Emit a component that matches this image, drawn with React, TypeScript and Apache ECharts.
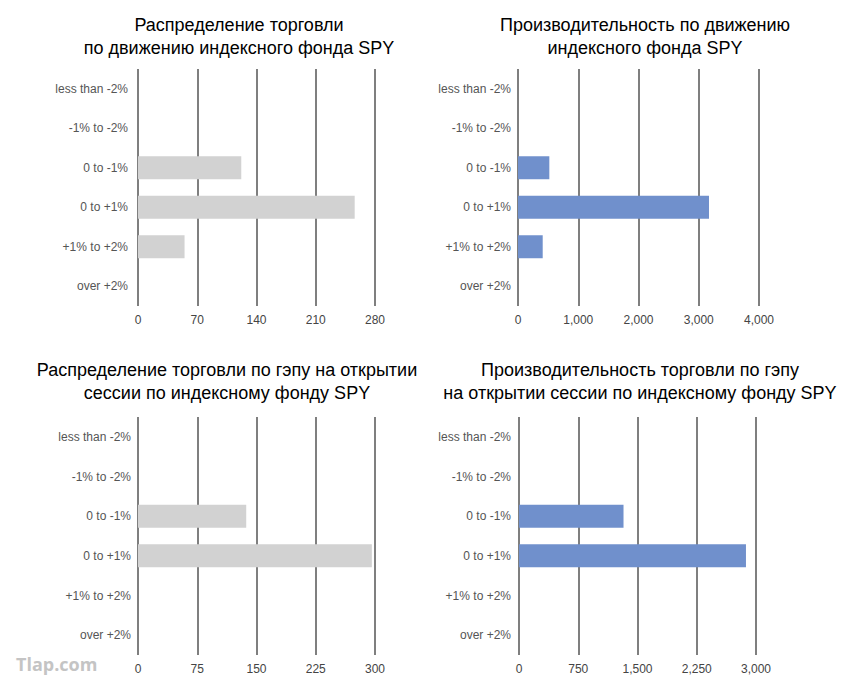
import React, { useEffect, useRef } from "react";
import * as echarts from "echarts";

const categories = ["less than -2%", "-1% to -2%", "0 to -1%", "0 to +1%", "+1% to +2%", "over +2%"];

const titles = [
  "Распределение торговли\nпо движению индексного фонда SPY",
  "Производительность по движению\nиндексного фонда SPY",
  "Распределение торговли по гэпу на открытии\nсессии по индексному фонду SPY",
  "Производительность торговли по гэпу\nна открытии сессии по индексному фонду SPY",
];

const tradesByMove = [0, 0, 122, 256, 55, 0];
const profitByMove = [0, 0, 520, 3170, 410, 0];
const tradesByGap = [0, 0, 137, 296, 0, 0];
const profitByGap = [0, 0, 1323, 2873, 0, 0];

const axisMax = [280, 4000, 300, 3000];
const axisInterval = [70, 1000, 75, 750];

const GRAY = "#d2d2d2";
const BLUE = "#7090cc";

export default function App() {
  const ref = useRef<HTMLDivElement>(null);
  useEffect(() => {
    document.body.style.margin = "0";
    const chart = echarts.init(ref.current!, null, { renderer: "svg" });
    const grids = [
      { left: 138, top: 69, width: 237, height: 237 },
      { left: 518, top: 69, width: 241, height: 237 },
      { left: 138, top: 417, width: 237, height: 238 },
      { left: 519, top: 417, width: 237, height: 238 },
    ];
    const titleX = [239, 645, 227, 640];
    const titleY = [13, 13, 358, 358];
    const labelMargin = [10, 7, 7, 8];
    const seriesData = [tradesByMove, profitByMove, tradesByGap, profitByGap];
    const colors = [GRAY, BLUE, GRAY, BLUE];
    const font = "'Liberation Sans', Arial, Helvetica, sans-serif";

    chart.setOption({
      animation: false,
      backgroundColor: "#ffffff",
      textStyle: { fontFamily: font },
      title: titles.map((t, i) => ({
        text: t,
        left: titleX[i],
        top: titleY[i],
        textAlign: "center",
        padding: 0,
        textStyle: {
          fontFamily: font,
          fontSize: 18,
          fontWeight: "normal",
          color: "#000000",
          lineHeight: 23,
        },
      })),
      grid: grids,
      xAxis: grids.map((_, i) => ({
        type: "value",
        gridIndex: i,
        min: 0,
        max: axisMax[i],
        interval: axisInterval[i],
        axisLine: { show: false },
        axisTick: { show: false },
        splitLine: { show: true, lineStyle: { color: "#555555", width: 1.5 } },
        axisLabel: {
          color: "#444444",
          fontSize: 12,
          fontFamily: font,
          margin: 8,
          formatter: (v: number) => v.toLocaleString("en-US"),
        },
      })),
      yAxis: grids.map((_, i) => ({
        type: "category",
        gridIndex: i,
        data: categories,
        inverse: true,
        axisLine: { show: false },
        axisTick: { show: false },
        splitLine: { show: false },
        axisLabel: {
          color: "#555555",
          fontSize: 12,
          fontFamily: font,
          margin: labelMargin[i],
        },
      })),
      series: seriesData.map((d, i) => ({
        type: "bar",
        xAxisIndex: i,
        yAxisIndex: i,
        data: d,
        barWidth: 23,
        itemStyle: { color: colors[i] },
      })),
      graphic: [
        {
          type: "text",
          left: 16,
          top: 655,
          style: {
            text: "Tlap.com",
            fill: "#c4c4c4",
            font: "bold 18px 'Open Sans', 'DejaVu Sans', sans-serif",
          },
        },
      ],
    });
    return () => chart.dispose();
  }, []);
  return <div ref={ref} style={{ width: 864, height: 696 }} />;
}
